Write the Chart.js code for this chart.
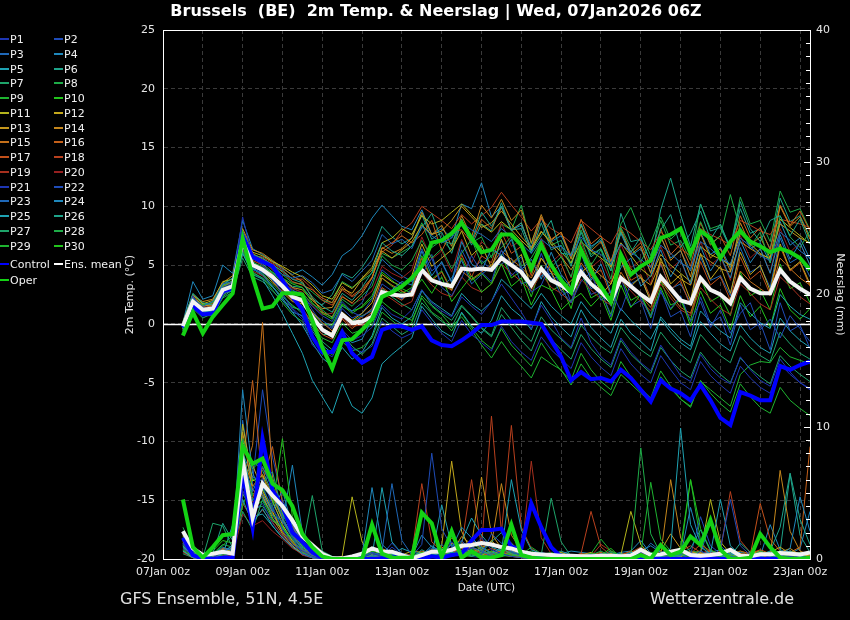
<!DOCTYPE html>
<html>
<head>
<meta charset="utf-8">
<title>Brussels 2m Temp. & Neerslag</title>
<script src="https://cdn.jsdelivr.net/npm/chart.js@4.4.1/dist/chart.umd.min.js"></script>
<style>
    body { margin: 0; background: #000; }
    #wrap { position: relative; width: 850px; height: 620px; background: #000; font-family: "DejaVu Sans", sans-serif; color: #e8e8e8; overflow: hidden; }
    #trendChart { position: absolute; left: 0; top: 0; }
    #title { position: absolute; left: 0; top: 1px; width: 872px; text-align: center; font-size: 16px; font-weight: bold; color: #fff; white-space: pre; }
    .foot { position: absolute; top: 589px; font-size: 16px; color: #e0e0e0; }
    .leg { position: absolute; font-size: 11px; line-height: 14px; white-space: nowrap; color: #f0f0f0; }
    .leg i { display: inline-block; width: 9px; height: 2px; vertical-align: middle; margin-right: 1px; margin-top: -2px; }
</style>
</head>
<body>
<div id="wrap">
    <canvas id="trendChart" width="850" height="620"></canvas>
    <div id="title">Brussels  (BE)  2m Temp. &amp; Neerslag | Wed, 07Jan2026 06Z</div>
    <div id="legend"></div>
    <div class="foot" style="left:120px">GFS Ensemble, 51N, 4.5E</div>
    <div class="foot" style="left:650px">Wetterzentrale.de</div>
</div>
<script>
// forecast steps, hours after 07Jan 00z
const forecastHours = [12,18,24,30,36,42,48,54,60,66,72,78,84,90,96,102,108,114,120,126,132,138,144,150,156,162,168,174,180,186,192,198,204,210,216,222,228,234,240,246,252,258,264,270,276,282,288,294,300,306,312,318,324,330,336,342,348,354,360,366,372,378,384,390];
const dayLabels = ['07Jan 00z','09Jan 00z','11Jan 00z','13Jan 00z','15Jan 00z','17Jan 00z','19Jan 00z','21Jan 00z','23Jan 00z'];

// 2m temperature (°C)
const tempControl = [-0.3,1.5,0.8,0.9,2.8,3.0,7.5,5.7, 5.3,4.9,3.7,2.3,1.2,-1.1,-2.4,-2.4, -0.7,-2.5,-3.3,-2.8,-0.5,-0.2,-0.2,-0.5, -0.2,-1.4,-1.8,-1.9,-1.4,-0.8,-0.1,-0.1, 0.2,0.2,0.2,0.1,0.0,-1.4,-2.8,-4.8, -4.1,-4.7,-4.6,-4.9,-3.9,-4.6,-5.6,-6.6, -4.8,-5.5,-5.9,-6.5,-5.2,-6.5,-8.0,-8.6, -5.8,-6.1,-6.5,-6.5,-3.6,-3.9,-3.5,-3.2];
const tempOper = [-1.0,1.0,-0.8,0.6,1.6,2.6,7.3,4.0, 1.3,1.5,2.6,2.6,2.5,0.3,-2.0,-3.8, -1.4,-1.3,-0.5,0.4,2.3,2.7,3.2,3.9, 4.9,6.9,7.1,7.7,8.6,7.3,6.1,6.3, 7.6,7.6,6.7,4.7,6.7,5.0,3.7,2.7, 6.3,4.5,3.2,1.9,5.9,4.2,4.9,5.4, 7.3,7.6,8.1,6.0,7.9,7.3,5.6,7.0, 7.9,7.0,6.6,6.1,6.4,6.1,5.6,4.6];
const tempMean = [-0.2,1.9,1.2,1.3,2.9,3.2,7.0,5.0, 4.6,4.0,3.2,2.3,2.0,0.6,-0.5,-1.0, 0.8,0.1,0.2,0.6,2.7,2.5,2.4,2.5, 4.6,3.7,3.4,3.2,4.7,4.6,4.7,4.6, 5.6,5.0,4.4,3.3,4.7,3.7,3.3,2.7, 4.4,3.4,2.7,1.9,3.9,3.2,2.5,1.9, 4.0,3.0,2.0,1.75,3.9,2.9,2.5,1.75, 3.9,3.0,2.6,2.6,4.6,3.6,3.0,2.5];

const tempP01 = [-0.3,2.4,1.0,1.5,3.1,3.5,9.1,5.6, 5.0,3.9,2.6,1.2,0.4,-1.8,-2.6,-2.2, -0.5,-1.4,-1.0,-0.3,1.6,0.8,0.4,1.2, 2.9,1.8,1.1,0.6,2.3,1.5,0.8,1.9, 3.4,2.2,1.0,-0.4,1.6,0.3,-1.2,-2.0, 0.5,-1.6,-2.8,-3.5,-1.2,-2.4,-3.3,-4.0, -1.8,-3.1,-4.4,-4.9,-2.6,-3.8,-4.6,-5.1, -2.8,-3.9,-4.8,-5.3,-3.0,-4.1,-5.0,-5.6];
const tempP02 = [0.0,1.6,1.4,1.1,2.5,3.0,6.5,4.6, 4.4,3.8,3.4,2.9,2.4,1.5,0.7,0.2, 1.9,1.0,0.6,1.2,3.4,2.8,2.1,3.0, 4.2,5.6,3.1,2.4,3.9,5.8,4.4,3.6, 6.3,4.1,4.9,2.7,3.3,5.2,2.9,1.8, 3.6,4.4,2.0,2.8,1.1,3.5,2.2,0.6, 2.7,1.3,2.4,0.2,1.9,-0.3,1.2,-0.8, 0.9,1.8,-0.5,0.4,-1.2,0.7,-0.4,-1.5];
const tempP03 = [-0.1,2.2,1.5,1.9,3.4,3.6,7.4,5.5, 5.3,4.8,4.2,3.9,4.1,3.5,2.6,2.9, 4.2,3.6,4.5,5.4,7.6,6.8,7.2,6.4, 8.3,7.5,6.9,7.3,8.6,8.0,7.6,7.0, 8.1,7.4,6.8,6.0,7.2,6.5,6.6,5.8, 7.4,6.3,5.9,5.1,6.8,6.1,5.5,4.8, 6.7,6.0,5.2,4.7,7.0,6.4,5.6,5.1, 7.3,6.6,5.8,5.4,7.8,7.1,6.2,5.6];
const tempP04 = [-0.4,1.8,0.9,1.2,2.7,3.3,6.8,4.8, 4.2,3.2,2.0,1.0,0.7,-0.6,-1.8,-2.5, -0.9,-1.6,-1.3,0.4,2.2,2.9,3.6,3.3, 6.2,4.1,5.3,3.6,7.0,5.1,4.5,6.4, 5.8,7.2,4.6,5.5,3.8,6.1,4.2,3.1, 6.0,3.7,5.1,2.6,4.8,5.6,3.2,4.1, 6.3,4.0,5.5,3.4,6.6,4.5,5.8,3.9, 7.1,5.2,6.4,4.3,7.6,5.5,6.9,5.0];
const tempP05 = [-0.2,1.7,1.1,1.0,2.6,2.8,6.0,4.2, 3.8,2.4,0.9,-0.8,-2.5,-4.8,-6.2,-7.6, -5.1,-7.0,-7.6,-6.3,-3.4,-2.6,-1.9,-1.2, 1.5,0.4,-0.6,-1.1,1.0,-0.2,-0.8,0.3, 2.4,1.3,0.6,-0.5,1.9,0.6,-0.3,-1.1, 1.2,-0.3,-1.2,-2.0,0.4,-0.8,-1.5,-2.3, 0.6,-0.4,-1.3,-1.9,1.1,0.2,-0.6,-1.2, 1.8,0.9,0.1,-0.4,2.5,1.5,0.8,0.4];
const tempP06 = [0.1,2.6,1.8,1.6,3.3,3.9,7.8,5.9, 5.6,5.0,4.5,3.8,3.5,2.3,1.5,1.0, 2.6,2.0,3.1,4.4,6.9,6.2,5.8,6.6, 8.2,9.4,7.1,6.8,8.9,7.0,9.5,8.3, 10.0,7.9,8.6,6.2,7.5,8.8,6.0,5.9, 8.5,6.4,7.3,5.0,7.8,6.1,7.4,5.2, 8.0,9.3,6.5,7.7,9.6,7.2,8.5,6.4, 10.4,8.1,7.0,8.8,9.2,7.5,8.9,6.8];
const tempP07 = [-0.6,1.3,0.5,0.9,2.3,2.9,6.2,4.4, 3.9,3.1,2.3,1.6,0.9,-0.4,-1.5,-2.2, -0.8,-1.9,-2.6,-1.7,0.5,-0.2,-0.9,-0.4, 1.8,0.9,0.2,-0.3,1.5,0.6,-0.4,-1.1, 0.8,-0.3,-1.4,-2.3,-0.2,-1.3,-2.2,-3.0, -0.9,-2.1,-3.0,-3.7,-1.4,-2.6,-3.4,-4.2, -2.0,-3.1,-4.0,-4.6,-2.4,-3.5,-4.3,-5.0, -2.9,-3.8,-4.5,-5.1,-2.7,-3.6,-4.3,-4.9];
const tempP08 = [-0.3,2.0,1.3,1.4,3.0,3.4,7.2,5.2, 4.9,4.3,3.6,2.8,2.6,1.7,1.2,0.5, 2.1,1.5,2.4,3.2,5.8,5.0,4.6,5.4, 7.1,5.6,6.4,4.7,6.0,7.2,5.1,5.8, 6.5,7.4,4.9,5.6,7.1,4.8,5.7,4.0, 7.2,5.0,6.3,3.8,8.2,6.5,5.3,6.9, 9.1,7.2,8.0,5.9,8.7,6.8,7.5,11.0, 8.0,6.6,7.8,5.2,9.2,7.4,6.5,7.9];
const tempP09 = [-0.5,1.5,0.8,1.1,2.4,3.1,6.6,4.7, 4.3,3.4,2.5,1.5,1.1,-0.2,-1.2,-1.6, 0.1,-0.8,-0.5,-0.1,1.9,1.2,0.7,0.3, 2.2,1.0,0.4,-0.6,0.9,-0.3,-1.4,-2.1, -0.4,-1.8,-2.7,-3.6,-1.6,-2.9,-4.0,-4.8, -2.5,-3.9,-4.9,-5.6,-3.2,-4.5,-5.5,-6.3, -4.0,-5.3,-6.4,-7.0,-4.8,-5.9,-6.8,-7.5, -5.1,-6.2,-7.1,-7.6,-5.4,-6.5,-7.2,-7.8];
const tempP10 = [-0.1,2.1,1.6,1.8,3.2,3.7,7.6,5.3, 4.7,4.4,3.9,3.4,3.1,1.8,0.9,0.4, 1.6,0.9,1.5,2.4,4.4,3.7,3.0,2.6, 3.8,2.6,4.0,1.9,3.0,4.1,2.7,3.4, 5.1,3.2,3.9,1.6,3.3,2.9,1.2,2.0, 2.6,1.5,2.4,0.3,3.3,1.4,2.5,0.5, 3.1,1.2,2.3,-0.2,2.8,0.9,1.6,-0.5, 2.4,0.6,1.5,-0.3,3.0,1.2,0.4,1.3];
const tempP11 = [0.2,2.5,1.7,2.0,3.6,3.8,7.9,6.1, 5.8,5.3,4.9,4.4,4.0,3.3,2.4,2.1, 3.5,3.0,3.9,4.8,6.9,7.3,8.1,7.6, 9.2,8.5,8.8,9.5,10.2,9.3,8.4,7.8, 8.7,8.0,7.1,6.3,7.8,7.0,6.1,5.2, 7.0,6.2,5.6,4.9,6.9,5.8,4.7,4.0, 5.9,5.0,4.3,3.6,6.6,5.9,5.5,5.0, 7.7,6.8,6.0,5.5,8.9,8.2,7.5,6.8];
const tempP12 = [-0.4,1.9,1.1,1.2,2.8,3.1,6.9,4.9, 4.5,3.6,2.7,1.9,1.7,0.6,-0.4,-0.8, 1.0,0.3,0.9,1.8,4.2,3.6,3.2,4.1, 6.8,4.9,5.6,6.3,7.9,5.8,6.7,4.8, 7.2,5.1,5.9,3.0,5.6,4.4,2.8,3.7, 4.3,5.2,2.5,3.4,5.5,3.2,4.0,1.9, 5.6,3.4,4.2,2.0,6.0,3.8,4.9,2.6, 6.1,4.2,5.0,2.8,6.8,4.6,5.3,3.4];
const tempP13 = [-0.2,2.3,1.6,1.5,3.2,3.5,7.5,5.8, 5.4,4.6,3.9,3.1,2.9,2.0,1.3,1.4, 3.0,2.6,3.8,4.6,6.2,5.6,6.3,7.0, 8.4,7.6,7.9,8.8,10.0,9.1,8.2,8.6, 9.6,8.5,7.4,6.5,7.9,6.8,5.7,4.6, 6.0,4.9,4.1,3.4,5.6,4.7,3.9,3.3, 5.3,4.5,3.8,3.3,5.9,5.3,4.7,4.4, 7.0,6.4,5.9,5.6,8.5,7.9,7.3,6.9];
const tempP14 = [0.0,2.4,1.9,2.1,3.5,4.1,8.1,6.3, 6.0,5.4,4.8,4.1,3.6,2.2,1.0,0.6, 2.3,1.8,2.6,3.9,6.5,6.0,6.4,7.3, 9.5,7.6,8.4,6.6,9.2,7.4,10.1,9.0, 10.6,8.8,9.7,6.9,9.3,7.1,7.8,5.5, 8.4,6.2,7.0,4.8,7.9,5.9,6.6,4.3, 7.5,5.4,6.3,4.0,7.7,5.6,6.4,4.5, 8.6,6.7,7.4,5.6,10.0,8.3,9.1,7.2];
const tempP15 = [-0.3,2.0,1.2,1.0,2.7,3.2,6.7,5.1, 4.8,4.1,3.3,2.5,2.0,1.0,0.1,-0.6, 0.7,0.0,0.6,1.3,3.9,3.3,2.8,2.3, 4.6,3.7,3.3,2.9,4.5,3.8,4.4,5.0, 6.2,5.5,4.8,3.9,5.6,4.4,3.8,3.0, 5.2,4.0,3.0,2.2,4.4,3.1,2.4,1.4, 3.7,2.5,1.4,0.9,3.6,2.9,2.6,2.0, 4.5,3.6,3.0,2.4,5.6,4.7,3.9,3.3];
const tempP16 = [0.1,2.3,1.5,1.7,3.3,3.6,7.7,6.0, 5.5,5.1,4.4,3.6,3.3,2.9,2.2,1.8, 3.2,2.4,3.0,3.9,6.4,6.9,7.5,6.9, 7.6,8.8,6.2,7.9,8.0,6.9,8.9,8.1, 9.9,8.0,8.6,6.3,9.1,7.2,7.8,5.8, 8.9,6.8,7.5,5.3,8.1,6.1,6.9,4.8, 8.1,5.9,6.8,4.9,8.6,6.7,7.5,5.8, 9.2,7.3,8.2,6.3,10.1,8.4,9.6,7.9];
const tempP17 = [-0.2,1.8,1.3,1.6,3.0,3.3,7.1,5.4, 5.0,4.2,3.0,2.0,1.3,0.1,-0.9,-1.3, 0.4,-0.4,0.3,1.0,3.1,2.5,2.0,2.9, 5.6,3.7,4.4,2.8,5.9,4.0,5.8,5.2, 7.8,6.0,6.6,4.1,6.7,4.4,5.1,3.0, 6.2,4.1,4.6,2.4,5.6,3.7,4.2,2.2, 5.2,2.9,3.7,1.5,5.3,3.3,4.0,2.0, 5.7,3.8,4.5,2.5,6.6,4.5,5.2,3.2];
const tempP18 = [0.0,2.1,1.4,1.8,3.1,3.7,7.3,5.7, 5.7,5.2,4.6,3.8,3.8,3.0,2.0,1.6, 2.9,2.3,2.8,4.0,6.1,6.7,7.9,8.6, 10.0,9.4,8.8,8.1,9.3,8.5,9.2,9.9, 11.2,10.1,9.1,7.9,8.9,8.1,7.6,6.9, 8.8,8.1,7.4,6.8,8.3,7.7,7.0,6.3, 7.8,7.1,6.4,5.8,8.1,7.6,7.2,6.7, 8.8,8.4,7.9,7.6,8.9,8.7,8.5,8.2];
const tempP19 = [-0.5,1.6,0.9,0.8,2.5,2.9,6.4,4.5, 4.1,3.5,2.8,2.1,1.8,0.5,-0.6,-1.1, 0.5,-0.2,-0.1,0.4,2.6,2.1,1.5,1.9, 4.4,3.3,2.6,2.3,4.0,3.1,2.7,3.4, 5.1,4.3,3.6,2.8,4.3,3.1,2.6,1.8, 3.8,2.9,2.1,1.6,3.7,2.8,1.9,1.1, 3.4,2.2,1.2,0.7,3.1,2.1,1.3,0.8, 3.4,2.6,1.7,1.2,4.0,3.2,2.3,1.7];
const tempP20 = [-0.1,1.9,1.2,1.3,2.9,3.4,6.6,5.0, 4.6,4.0,3.5,3.0,2.7,1.6,0.8,0.9, 2.4,1.7,2.1,2.8,4.9,4.3,3.9,4.6, 7.4,5.5,6.2,4.4,7.2,5.2,7.0,6.2, 8.6,6.6,7.1,4.8,7.3,5.2,6.0,3.9, 6.9,4.8,5.5,3.5,6.8,4.8,5.4,3.4, 6.6,4.7,5.4,3.3,7.0,5.0,5.7,3.7, 7.5,5.6,6.4,4.4,8.1,6.1,6.9,5.0];
const tempP21 = [-0.4,1.7,0.9,1.1,2.6,3.1,7.9,5.3, 4.7,3.8,2.5,1.3,0.6,-1.1,-2.3,-2.8, -1.2,-2.1,-2.4,-1.9,0.2,-0.6,-1.2,-0.8, 1.2,0.1,-0.8,-1.5,0.3,-0.9,-1.6,-2.3, -0.2,-1.5,-2.4,-3.1,-1.1,-2.2,-3.0,-3.8, -1.6,-2.8,-3.7,-4.4,-2.1,-3.4,-4.3,-5.0, -2.7,-3.9,-5.0,-5.6,-3.2,-4.4,-5.2,-5.9, -3.6,-4.6,-5.4,-5.9,-3.4,-4.3,-5.0,-5.5];
const tempP22 = [0.2,2.2,1.6,1.4,2.8,3.0,7.0,5.2, 4.8,4.3,3.7,3.1,2.6,1.2,0.0,-0.4, 1.3,0.5,0.9,2.1,4.6,3.9,3.4,3.8, 6.4,4.5,5.2,3.5,6.3,4.6,5.4,4.6, 7.1,5.0,5.7,3.1,6.0,3.8,4.1,1.8, 4.8,2.5,2.9,0.6,3.9,1.5,2.0,-0.4, 2.9,0.6,1.1,-1.1,2.3,0.0,0.6,-1.8, 1.6,-0.5,0.1,-2.2,1.8,-0.6,-0.1,-2.1];
const tempP23 = [-0.3,2.0,1.0,1.3,3.0,3.1,6.3,4.9, 4.4,3.7,3.0,2.2,1.5,0.9,0.3,-0.3, 1.5,1.1,1.8,3.6,5.5,4.7,4.1,3.6, 4.8,5.9,3.2,3.9,5.4,3.4,4.2,4.9, 5.1,5.6,3.4,3.7,4.1,4.3,2.4,2.9, 5.0,3.0,3.4,1.5,5.5,3.4,3.9,2.0, 5.1,3.0,3.4,1.8,5.7,3.7,4.1,2.4, 6.5,4.4,4.9,3.1,7.3,5.2,5.7,4.0];
const tempP24 = [0.1,3.6,2.1,2.4,5.0,4.3,8.8,6.4, 5.9,5.3,4.7,4.2,4.6,4.0,3.3,4.2, 5.8,6.4,7.5,9.0,10.1,9.2,8.3,8.0, 9.7,7.6,8.1,7.3,10.2,9.8,12.0,9.1, 10.0,8.0,8.4,6.5,9.0,7.0,7.5,5.7, 8.5,6.6,7.1,5.3,7.7,5.8,6.4,4.4, 7.4,5.6,6.2,4.5,7.8,5.9,6.5,4.8, 8.2,6.4,6.9,5.2,8.7,6.7,7.3,5.5];
const tempP25 = [-0.2,1.8,1.2,1.4,2.9,3.2,6.8,4.7, 4.1,3.2,2.2,1.0,-0.1,-1.6,-2.9,-3.6, -2.0,-3.0,-2.4,-1.0,1.4,0.5,0.0,0.6, 2.8,1.9,1.3,0.7,2.6,1.7,1.1,1.9, 3.8,3.0,2.1,1.3,2.6,1.5,0.7,0.0, 1.9,0.8,0.0,-0.8,1.3,0.3,-0.5,-1.3, 0.4,-0.7,-1.6,-2.2,0.2,-0.8,-1.7,-2.3, -0.1,-1.2,-2.0,-2.5,0.5,-0.6,-1.4,-2.0];
const tempP26 = [0.0,2.5,1.7,1.6,3.4,3.9,7.2,5.6, 5.1,4.4,3.8,3.2,3.1,2.1,1.6,2.5, 4.3,3.9,4.8,6.1,8.3,7.4,6.8,7.3, 9.3,7.2,7.8,6.0,8.7,6.7,8.5,7.9, 10.3,8.0,8.1,6.0,8.6,6.3,6.7,4.9, 7.8,5.7,6.4,4.5,9.4,7.0,7.2,5.3, 9.7,12.4,9.3,6.6,10.2,7.9,8.2,6.4, 9.8,7.7,8.1,6.4,10.7,8.7,9.2,7.4];
const tempP27 = [-0.6,1.4,0.7,0.7,2.2,2.7,5.6,4.0, 3.6,2.8,2.0,1.4,1.2,0.0,-0.9,-0.9, 0.9,0.2,0.7,1.1,3.0,2.3,1.7,1.2, 2.9,1.6,0.9,0.3,1.6,0.7,-0.3,-1.0, 1.4,0.3,-0.7,-1.5,0.6,-0.5,-1.3,-2.1, -0.1,-1.1,-1.9,-2.5,-0.3,-1.4,-2.2,-2.8, -0.7,-1.8,-2.6,-3.3,-0.9,-1.9,-2.7,-3.3, -1.0,-2.0,-2.7,-3.2,-0.7,-1.7,-2.5,-3.0];
const tempP28 = [-0.1,2.2,1.5,1.9,3.3,3.5,7.6,5.9, 5.6,5.0,4.2,3.5,3.4,2.7,2.0,1.8, 3.6,3.1,3.7,4.3,6.0,5.6,6.1,6.6, 8.6,6.5,7.1,6.3,8.9,6.9,7.4,5.6, 8.5,8.0,10.1,6.8,9.1,6.7,7.1,5.1, 8.0,5.9,6.4,4.5,8.5,9.9,7.8,5.8, 8.8,6.7,7.1,5.4,10.2,8.1,8.4,6.5, 10.8,8.5,8.8,7.0,11.3,9.5,9.8,8.0];
const tempP29 = [-0.4,1.6,0.8,1.2,2.5,3.0,6.1,4.3, 3.9,2.9,1.8,0.8,0.2,-1.2,-2.2,-2.6, -1.5,-2.3,-2.0,-1.2,1.0,0.3,-0.4,0.1, 2.4,1.5,0.8,-0.2,0.6,-0.5,-1.8,-2.9, -1.5,-2.7,-3.6,-4.6,-2.8,-3.4,-3.9,-5.2, -3.4,-4.6,-5.4,-6.1,-4.3,-5.1,-5.9,-6.6, -4.5,-5.5,-6.4,-7.1,-4.9,-5.6,-6.3,-7.0, -4.3,-3.5,-3.2,-3.3,-2.0,-2.8,-3.1,-3.4];
const tempP30 = [-0.3,1.9,1.0,1.6,3.1,3.3,7.0,5.1, 4.5,3.8,3.1,2.4,2.2,0.9,0.0,-0.1, 1.7,1.1,1.4,2.2,3.9,3.2,2.6,3.1, 5.8,3.8,4.5,2.9,5.6,3.7,4.3,3.4, 5.9,3.9,4.5,2.3,5.0,2.8,3.3,1.3, 4.5,2.2,2.7,0.8,4.1,2.0,2.5,0.7, 3.7,1.6,2.0,0.3,3.9,1.9,2.4,0.7, 4.4,2.4,2.9,1.2,5.1,3.0,3.5,1.8];

// 6-hourly precipitation (mm)
const rainControl = [1.6,0.3,0,0,0.1,0.1,6.5,2.4, 9.1,5.2,4.0,2.0,1.3,0.5,0.1,0, 0,0,0,0,0.05,0.1,0.3,0, 0,0.2,0.1,0.3,0.4,1.4,2.2,2.2, 2.3,0.9,0.8,4.2,2.4,0.9,0.15,0, 0.1,0.2,0.2,0.2,0.1,0.05,0,0, 0,0,0,0,0,0,0,0, 0,0,0,0,0,0,0,0];
const rainOper = [4.5,0.9,0.1,0.9,1.8,1.9,8.5,7.2, 7.6,5.7,5.2,4.0,1.9,0.9,0.2,0, 0,0,0,2.6,0.4,0.1,0.1,0.1, 3.5,2.7,0.15,2.1,0.1,0.6,0.1,0.1, 0.3,2.6,0.3,0.1,0,0,0,0, 0,0,0,0,0,0,0.3,0, 1.06,0.3,0.55,1.7,1.06,2.95,0.7,0, 0,0.1,1.9,0.9,0.1,0,0,0.1];
const rainMean = [2.1,0.8,0.3,0.4,0.55,0.4,7.5,3.1, 5.7,4.8,4.0,2.9,1.7,1.06,0.4,0.05, 0.05,0.2,0.4,0.8,0.55,0.55,0.3,0.05, 0.3,0.55,0.55,0.7,1.0,1.06,1.2,1.1, 0.9,0.8,0.55,0.4,0.35,0.3,0.25,0.25, 0.2,0.2,0.25,0.25,0.2,0.25,0.7,0.3, 0.35,0.55,0.7,0.3,0.25,0.3,0.4,0.7, 0.25,0.2,0.35,0.35,0.45,0.4,0.35,0.5];

const rainP01 = [1.2,0.2,0,0.1,0.5,0.3,5.2,3.4, 6.1,4.0,2.2,1.1,0.6,0.2,0,0, 0,0,0.1,0.4,0.2,0.9,0.3,0, 0,0.6,0.2,1.3,0.5,0.8,1.6,0.7, 0.4,0.2,0.1,0,0,0.2,0,0, 0,0,0.3,0.1,0,0,0.5,0.2, 0,0.1,0,0,0.6,0.3,0.1,0, 0,0.2,0.4,0.1,0,0,0.3,0.1];
const rainP02 = [0.8,0.3,0.1,0,0.2,0.4,6.8,4.1, 5.5,3.7,2.8,1.6,0.4,0.1,0,0, 0,0.1,0.2,0.5,0.3,1.2,0.4,0.2, 1.1,8.0,2.3,0.9,1.4,0.6,0.3,1.9, 1.2,0.5,0.3,0.1,0,0,0.2,0, 0,0,0,0.1,0.2,0,0,0.1, 0.3,0.1,0,0.5,0.2,0,0.8,4.5, 1.0,0.3,0.2,0,0.1,0.2,0,0];
const rainP03 = [1.5,0.4,0.1,0.2,0.6,0.8,7.4,5.1, 7.0,5.3,3.1,1.8,0.7,0.3,0.1,0, 0,0,0,0.2,0.6,5.7,1.4,0.3, 0.2,0.5,1.1,0.4,0.3,0.9,0.6,0.2, 0.5,1.2,0.4,0.2,0,0,0.1,0, 0,0.1,0.2,0,0,0.3,0.1,0, 0,0.2,0.5,0.3,0,0.1,0.4,0.2, 0.1,0,0,0.2,0.3,0.1,0,0.2];
const rainP04 = [1.0,0.2,0,0.3,0.9,0.6,12.8,6.5, 4.9,3.6,5.2,2.4,1.3,0.5,0.1,0, 0,0,0.3,5.4,1.1,0.4,0.2,0, 0.3,1.0,0.5,0.8,2.4,1.6,0.9,0.4, 0.9,0.6,0.3,0.2,0.1,0,0,0, 0,0,0.4,0.2,0.3,0,0.6,1.0, 0.5,0.3,0.2,3.9,1.1,0.2,0.1,0.4, 0.2,0,0.1,0.5,0.3,0.8,4.7,2.1];
const rainP05 = [0.6,0.1,0,0,0.4,1.1,4.5,2.7, 3.8,2.5,1.6,0.9,0.4,0.1,0,0, 0,0,0,0,0.1,0.3,0.8,0.5, 0.4,0.2,0.6,0.5,1.3,3.1,1.8,0.9, 0.6,6.0,2.2,0.7,0.4,0.2,0,0, 0,0.1,0,0,0.2,0.5,0.3,0.1, 0.2,0.8,9.9,2.6,0.9,0.4,4.5,1.0, 0.3,0.1,0.2,0,0.4,0.6,0.2,0.1];
const rainP06 = [2.1,0.5,0.2,0.4,2.7,1.4,8.3,4.4, 5.8,6.6,3.5,2.0,0.9,0.4,0.1,0, 0,0,0.1,0.3,0.2,0.5,0.2,0.1, 0.7,0.3,0.4,1.1,0.6,0.2,0.5,1.3, 2.0,0.8,0.3,0.1,0.2,0.4,0.1,0, 0,0.2,0.3,0.2,0.4,0.1,0.7,0.3, 0.2,0.1,0.4,0.8,2.2,0.6,0.3,0.2, 1.2,0.5,0.3,0.6,2.4,6.5,3.0,1.1];
const rainP07 = [0.9,0.3,0.1,2.7,2.5,0.8,3.6,2.2, 4.5,3.3,2.9,1.7,0.8,4.8,0.6,0.2, 0,0,0,0.2,0.1,0.4,0.2,0, 0.3,0.6,0.3,0.5,0.4,1.2,0.7,0.3, 0.8,0.4,0.2,0.1,0.3,4.6,1.3,0.2, 0.1,0,0.2,0.5,0.2,0.1,0,0, 0,0.1,0.3,0.2,0.1,0,0.2,0.4, 0.3,0.2,0,0.1,0.6,0.3,0.2,0.1];
const rainP08 = [1.7,0.6,0.2,0.1,0.3,0.5,9.1,6.8, 7.6,5.0,3.3,2.1,1.0,0.4,0.1,0, 0,0,0.1,0.5,0.3,0.2,0.4,0.1, 0.2,0.3,0.8,0.4,0.6,0.3,0.9,0.5, 0.3,0.2,0.6,0.4,0.2,0.1,0,0.1, 0,0.3,0.6,0.2,0,0.1,8.4,1.9, 0.4,0.2,0.1,0.3,0.6,0.2,0.1,0, 0,0.2,0.6,0.3,0.1,0.4,0.2,0];
const rainP09 = [1.1,0.4,0.1,0.3,1.0,1.8,5.6,3.9, 4.4,3.0,2.4,1.5,0.5,0.2,0,0, 0,0.1,0,0,0.2,0.1,0.3,0.2, 0.4,0.2,0.1,0.5,0.3,0.2,0.4,0.6, 0.2,0.5,0.3,0.9,0.4,0.2,0.1,0, 0.2,0.4,1.5,0.6,0.2,0.3,0.4,5.8, 1.5,0.6,0.4,0.2,0.3,0.1,0.2,0.3, 0.1,0.3,0.2,0.4,0.6,0.3,0.1,0.2];
const rainP10 = [0.7,0.2,0.1,0.6,1.4,1.2,4.0,6.1, 5.3,3.9,9.1,3.2,1.6,0.7,0.2,0, 0,0,0.2,0.6,0.4,0.3,0.2,0.1, 0.5,0.4,0.2,0.3,0.6,0.4,0.3,0.2, 0.4,0.3,0.2,0.1,0.2,0.3,0.1,0, 0.2,0.4,0.3,0.8,0.1,0.2,0.3,0.2, 0.2,0.4,0.9,6.0,2.3,0.7,0.3,0.2, 0.1,0.2,0.3,0.2,0.4,0.2,0.3,0.1];
const rainP11 = [1.3,0.3,0,0.2,0.4,0.9,10.2,5.9, 6.3,4.4,2.6,1.4,0.6,0.2,0,0, 0.2,4.7,1.3,0.3,0.1,0,0.4,0.2, 0.1,0.4,0.6,1.6,0.9,0.5,0.3,0.6, 0.4,0.2,0.1,0,0,0.3,0.5,0.2, 0.1,0,0.2,0.4,0.3,3.6,1.1,0.3, 0.2,0.4,0.6,0.3,0.5,4.5,1.3,0.4, 0.3,0.2,0.5,0.3,0.2,0.6,0.4,0.2];
const rainP12 = [0.9,0.2,0.1,0.1,0.5,0.7,8.9,7.1, 5.2,3.6,2.0,1.2,0.5,0.2,0,0, 0,0.1,0,0.2,0.8,0.4,0.3,0.6, 0.5,0.3,1.0,7.4,2.1,0.5,0.7,1.4, 0.6,1.2,0.4,0.2,0.1,0,0.1,0, 0,0.2,0.1,0.4,0.2,0.1,0.6,0.3, 0.1,0.3,0.2,0.5,0.4,0.2,0.1,0.3, 0.2,0.1,0.3,0.5,0.9,0.4,0.2,0.1];
const rainP13 = [1.4,0.5,0.2,0.3,0.7,0.4,9.6,5.2, 4.8,3.1,1.9,1.0,0.4,0.1,0,0, 0,0,0.3,0.1,0.2,0.5,0.3,0.2, 0.4,0.6,0.9,0.5,1.7,1.1,6.2,1.9, 0.8,0.4,0.2,0.1,0,0.2,0.3,0.1, 0.3,0.5,0.2,0.1,0.4,0.2,0.1,0.3, 0.6,1.9,0.8,0.3,0.2,0.4,0.3,0.1, 0.2,0.4,0.6,0.3,0.5,0.8,0.3,0.4];
const rainP14 = [0.6,0.1,0,0.2,0.6,0.3,7.8,5.5, 6.4,4.8,3.0,1.9,0.7,0.3,0.1,0, 0,0,0,0.1,0.3,0.6,0.4,0.2, 0.3,0.7,0.4,1.2,0.8,0.5,0.9,1.1, 5.7,1.8,0.7,0.3,0.1,0,0,0.1, 0.2,0.1,0.3,0.2,0,0.4,0.2,0.1, 0.3,6.0,1.6,0.5,0.3,0.2,0.4,0.2, 0.4,0.3,0.6,0.2,6.7,2.1,0.6,0.3];
const rainP15 = [1.8,0.5,0.2,0.3,0.8,0.6,6.0,8.6, 17.9,6.2,3.4,2.5,1.2,0.4,0.1,0, 0,0,0.2,0.1,0.4,0.3,0.2,0.1, 0.6,0.4,0.3,0.8,0.5,1.4,0.7,0.3, 0.2,0.6,0.3,0.1,0.2,0,0,0.1, 0,0.2,0.4,0.3,0.1,0.3,0.5,0.2, 0.1,0.3,0.2,0.4,0.6,0.2,0.1,0.3, 0.2,0.4,0.3,0.1,0.5,0.3,0.4,0.2];
const rainP16 = [1.0,0.3,0,0.1,0.3,0.7,7.0,13.5, 5.8,8.5,4.2,2.0,0.9,0.3,0.1,0, 0,0,0.1,0.3,0.2,0.4,0.1,0.2, 0.3,0.5,0.6,0.4,1.0,0.6,0.5,0.8, 0.5,0.3,0.1,0.2,0.4,0.1,0,0, 0.1,0.3,0.5,0.2,0.3,0.6,0.4,0.2, 0.2,0.1,0.5,0.3,0.4,0.6,0.2,0.3, 0.6,0.4,0.7,0.4,0.2,0.5,0.9,8.5];
const rainP17 = [1.6,0.4,0.1,0.2,0.5,0.3,5.1,4.6, 6.9,5.5,3.8,2.3,1.4,0.5,0.1,0, 0,0,0.1,0,0.2,0.3,0.2,0.1, 0.4,0.2,0.5,0.3,0.6,0.4,0.2,0.5, 0.3,0.2,0.4,0.3,0.1,0,0.1,0.2, 0.4,0.3,0.1,0.2,0.3,0.5,0.9,0.4, 0.3,0.2,0.6,0.4,1.1,0.6,0.3,0.2, 0.4,0.3,4.2,1.5,0.6,0.4,0.2,0.3];
const rainP18 = [1.3,0.2,0.1,0,0.4,0.5,6.3,4.3, 5.0,3.5,2.1,1.3,0.6,0.2,0,0, 0,0,0,0.2,0.1,0.3,0.2,0.4, 5.7,1.3,0.6,0.4,1.0,6.0,0.9,10.8, 2.0,10.1,2.4,0.8,0.3,0.1,0,0.2, 0.4,3.6,0.9,0.3,0.2,0.1,0.4,0.3, 0.2,0.4,0.6,1.0,0.5,0.3,0.6,5.1, 1.4,0.5,0.3,0.2,0.4,0.6,0.3,0.2];
const rainP19 = [0.5,0.1,0,0,0.2,0.3,4.2,3.0, 3.7,2.8,1.7,0.9,0.3,0.1,0,0, 0,0,0,0.1,0.2,0.1,0.3,0.2, 0.3,0.5,0.2,0.4,0.6,0.9,0.4,0.3, 0.5,0.7,0.3,7.4,1.6,0.4,0.2,0.1, 0.3,0.2,1.1,0.6,0.2,0.1,0.3,0.2, 0.1,0.3,0.5,0.2,0.4,0.7,0.3,0.2, 0.2,0.6,0.4,0.3,0.2,0.4,0.3,0.5];
const rainP20 = [0.8,0.2,0,0.1,0.3,0.2,3.4,2.5, 2.9,2.1,1.5,0.8,0.4,0.1,0,0, 0,0,0.1,0.2,0.1,0.3,0.2,0.1, 0.2,0.4,0.5,0.3,0.7,0.5,0.3,0.4, 0.6,0.3,0.2,0.4,0.2,0.1,0.3,0.2, 0.2,0.4,0.3,0.2,0.1,0.3,0.2,0.4, 0.3,0.2,0.1,0.3,0.2,0.5,0.3,0.2, 0.1,0.3,0.2,0.4,0.3,0.2,0.3,0.1];
const rainP21 = [0.7,0.1,0,0,0.2,0.4,7.2,3.6, 4.2,2.7,1.8,1.0,0.3,0.1,0,0, 0,0,0,0,0.1,0.2,0.1,0, 0.2,0.1,0.3,0.2,0.4,0.2,0.1,0.3, 0.2,0.4,0.1,0,0.1,0.2,0,0, 0.1,0,0.2,0.1,0,0.1,0.3,0.1, 0,0.2,0.1,0,0.3,0.1,0.2,0, 0.1,0,0.2,0.1,0,0.2,0.1,0];
const rainP22 = [1.1,0.3,0.1,0.2,0.5,0.6,4.8,5.9, 12.8,7.7,4.5,2.6,1.2,0.5,0.1,0, 0,0.1,0,0.2,0.4,0.3,0.1,0.2, 0.5,0.3,0.2,0.4,0.8,0.6,0.4,0.3, 0.4,0.2,0.3,0.1,0,0.2,0.1,0, 0,0.2,0.3,0.1,0.4,0.2,0.1,0.3, 0.2,0.4,0.6,0.3,3.2,1.0,0.4,0.2, 0.3,0.2,0.4,0.3,0.2,0.6,0.4,0.3];
const rainP23 = [1.4,0.4,0.1,0.3,0.7,0.9,10.5,5.6, 4.6,3.3,2.2,3.0,1.1,0.4,0.1,0, 0,0,0.1,0.2,0.3,0.5,0.2,0.1, 0.4,0.8,0.5,0.3,0.6,1.5,0.8,0.5, 0.3,0.6,0.4,0.2,0.5,0.3,0.1,0.2, 0.3,0.1,0.4,0.3,0.2,0.5,0.3,1.2, 0.6,0.3,0.2,0.5,0.4,2.8,1.0,0.3, 0.2,0.4,0.3,0.6,0.4,0.3,0.2,0.4];
const rainP24 = [1.9,0.5,0.1,0.2,0.8,0.6,8.0,6.2, 5.9,4.3,2.7,7.1,2.0,0.8,0.2,0, 0,0,0.2,0.4,0.3,0.6,0.4,0.2, 1.8,0.9,0.6,0.4,1.2,0.8,0.5,0.3, 0.4,0.7,0.5,0.3,0.2,0.3,0.4,0.6, 0.5,0.4,0.2,0.3,0.5,0.6,1.4,0.4, 0.3,0.6,0.4,0.2,0.3,0.5,0.7,0.4, 0.5,0.3,0.2,2.6,0.7,0.4,0.8,3.6];
const rainP25 = [0.9,0.2,0,0.1,0.3,2.6,6.6,3.2, 3.4,2.5,1.6,1.0,0.4,0.1,0,0, 0,0,0.2,0.1,5.4,1.3,0.4,0.2, 0.3,0.2,4.1,1.0,0.5,0.3,0.2,0.4, 0.6,0.3,0.2,0.1,0.2,0.4,0.3,0.1, 0.2,0.3,0.1,0.2,0.4,0.3,0.2,0.1, 0.3,0.2,0.4,0.3,0.1,0.2,0.3,0.5, 0.4,0.2,0.3,0.1,0.5,0.3,0.2,0.3];
const rainP26 = [1.2,0.3,0.1,0.2,0.4,0.8,5.7,7.4, 6.7,4.9,3.1,1.7,0.8,0.3,0.1,0, 0,0,0.1,0.3,0.2,0.4,0.3,0.1, 0.3,0.5,0.7,0.4,0.9,0.6,0.3,0.5, 0.6,0.4,0.3,0.2,0.4,0.3,0.6,0.3, 0.2,0.1,0.3,0.6,0.3,0.4,0.2,0.3, 0.4,0.3,0.2,0.5,0.3,0.6,0.4,0.3, 0.2,0.5,0.4,0.3,0.6,6.4,1.8,0.5];
const rainP27 = [0.4,0.1,0,0.3,0.6,0.4,4.9,3.8, 4.0,2.9,2.3,1.4,0.6,0.2,0,0, 0,0.1,0,0.1,0.2,0.3,0.1,0.2, 0.3,0.2,0.4,0.3,0.5,0.4,0.3,0.2, 0.4,0.5,0.3,0.2,0.3,0.2,0.1,0.1, 0.3,0.2,0.1,0.3,0.2,0.4,0.3,0.2, 0.1,0.3,0.2,0.4,0.2,0.3,0.5,0.2, 0.3,0.2,0.4,0.2,0.3,0.1,0.2,0.3];
const rainP28 = [2.4,0.7,0.2,0.4,1.1,0.9,7.6,4.9, 5.4,4.6,3.0,1.6,0.7,0.3,0.1,0, 0,0,0.1,0.2,0.4,0.2,0.3,0.1, 0.4,0.3,0.5,0.7,0.4,0.9,0.6,0.3, 0.3,0.2,0.4,0.6,0.3,0.5,0.2,0.1, 0.4,0.3,0.2,0.1,0.3,0.5,0.4,0.2, 0.3,0.2,0.4,0.6,0.5,0.3,0.2,0.4, 0.6,0.3,0.2,0.5,0.4,0.3,0.5,0.2];
const rainP29 = [1.0,0.3,0.1,0.2,0.5,0.7,6.2,4.0, 4.7,3.4,2.5,1.3,0.5,0.2,0,0, 0,0,0,0.1,0.3,0.2,0.1,0.3, 0.2,0.4,0.3,0.2,0.4,0.6,0.3,0.2, 0.3,0.4,0.2,0.3,0.2,0.1,0.3,0.2, 0.2,0.4,0.3,0.2,0.3,0.2,0.6,0.5, 0.3,0.5,0.4,6.0,1.4,0.3,0.2,0.3, 0.2,0.3,0.4,0.2,0.3,0.5,0.2,0.3];
const rainP30 = [0.6,0.2,0,0.1,0.4,0.5,6.9,4.8, 5.0,3.8,2.4,1.2,0.5,0.2,0,0, 0,0,0.1,0.2,0.3,0.2,0.4,0.1, 0.3,0.2,0.4,0.5,0.3,0.2,0.4,0.3, 0.2,0.3,0.4,0.2,0.3,0.4,0.2,0.1, 0.3,0.2,0.4,0.3,0.1,0.2,0.3,0.4, 0.2,0.3,0.5,0.2,0.4,0.3,0.2,0.3, 0.4,0.2,0.3,0.2,0.3,0.4,0.2,0.3];

const memberTemps = [tempP01,tempP02,tempP03,tempP04,tempP05,tempP06,tempP07,tempP08,tempP09,tempP10,tempP11,tempP12,tempP13,tempP14,tempP15,tempP16,tempP17,tempP18,tempP19,tempP20,tempP21,tempP22,tempP23,tempP24,tempP25,tempP26,tempP27,tempP28,tempP29,tempP30];
const memberRain = [rainP01,rainP02,rainP03,rainP04,rainP05,rainP06,rainP07,rainP08,rainP09,rainP10,rainP11,rainP12,rainP13,rainP14,rainP15,rainP16,rainP17,rainP18,rainP19,rainP20,rainP21,rainP22,rainP23,rainP24,rainP25,rainP26,rainP27,rainP28,rainP29,rainP30];

// P1..P20 palette, P21..P30 reuse the first ten colours
const palette = ['#1e36b4','#1f4cb8','#1f68b8','#1f88bc','#1ea2b2','#1ea48a','#1ea46a','#1eac48','#1eb430','#22c41c',
                 '#b4b41c','#c4a81c','#c4961c','#c4861c','#c4701a','#c4601a','#c2501a','#b8401e','#a6301e','#962020'];
const memberColor = i => palette[i % 20];

// Chart.js paints higher "order" first, so members get the largest value
function line(values, color, width, axis, order) {
    return {
        data: values.map((v, i) => ({ x: forecastHours[i], y: v })),
        borderColor: color,
        borderWidth: width,
        pointRadius: 0,
        tension: 0,
        fill: false,
        yAxisID: axis,
        order: order
    };
}

const datasets = [];
memberTemps.forEach((vals, i) => datasets.push(line(vals, memberColor(i), 1, 'y', 10)));
memberRain.forEach((vals, i) => datasets.push(line(vals, memberColor(i), 1, 'y2', 10)));
datasets.push(line(tempControl, '#0000ff', 4, 'y', 3), line(rainControl, '#0000ff', 4, 'y2', 3));
datasets.push(line(tempMean, '#f2f2f2', 4, 'y', 2), line(rainMean, '#f2f2f2', 4, 'y2', 2));
datasets.push(line(tempOper, '#14d214', 4, 'y', 1), line(rainOper, '#14d214', 4, 'y2', 1));

// legend, two columns at the left
const legend = document.getElementById('legend');
function addLegend(text, color, col, top) {
    const d = document.createElement('div');
    d.className = 'leg';
    d.style.left = (col ? 54 : 0) + 'px';
    d.style.top = top + 'px';
    d.innerHTML = '<i style="background:' + color + '"></i>' + text;
    legend.appendChild(d);
}
for (let i = 0; i < 30; i++) {
    addLegend('P' + (i + 1), memberColor(i), i % 2, 33 + Math.floor(i / 2) * 14.75);
}
addLegend('Control', '#0000ff', 0, 258);
addLegend('Ens. mean', '#ffffff', 1, 258);
addLegend('Oper', '#14d214', 0, 274);

const tickFont = { family: 'DejaVu Sans', size: 11 };
const gridColor = '#3a3a3a';

const framePlugin = {
    id: 'frame',
    beforeDatasetsDraw(chart) {
        const { ctx, chartArea: a, scales } = chart;
        const y0 = Math.round(scales.y.getPixelForValue(0)) + 0.5;
        ctx.save();
        ctx.strokeStyle = '#ffffff';
        ctx.lineWidth = 1.5;
        ctx.beginPath();
        ctx.moveTo(a.left, y0);
        ctx.lineTo(a.right, y0);
        ctx.stroke();
        ctx.restore();
    },
    afterDraw(chart) {
        const { ctx, chartArea: a, scales } = chart;
        ctx.save();
        ctx.strokeStyle = '#ffffff';
        ctx.lineWidth = 1;
        ctx.strokeRect(a.left + 0.5, a.top + 0.5, a.right - a.left, a.bottom - a.top);
        // short inward ticks on the precipitation axis
        scales.y2.ticks.forEach(t => {
            const y = Math.round(scales.y2.getPixelForValue(t.value)) + 0.5;
            const len = t.value % 10 === 0 ? 6 : 4;
            ctx.beginPath();
            ctx.moveTo(a.right - len, y);
            ctx.lineTo(a.right, y);
            ctx.stroke();
        });
        ctx.restore();
    }
};

new Chart(document.getElementById('trendChart').getContext('2d'), {
    type: 'line',
    data: { datasets: datasets },
    plugins: [framePlugin],
    options: {
        responsive: false,
        animation: false,
        events: [],
        layout: { padding: { left: 122, right: 4, top: 30, bottom: 22 } },
        plugins: {
            legend: { display: false },
            tooltip: { enabled: false }
        },
        scales: {
            x: {
                type: 'linear',
                min: 0,
                max: 390,
                afterFit: s => { s.height = 39; },
                // one grid line per day, a date label every second day
                afterBuildTicks: s => {
                    const ticks = [];
                    for (let h = 0; h <= 384; h += 24) ticks.push({ value: h });
                    s.ticks = ticks;
                },
                ticks: {
                    autoSkip: false,
                    maxRotation: 0,
                    padding: 7,
                    color: '#e6e6e6',
                    font: tickFont,
                    callback: v => (v % 48 === 0 ? dayLabels[v / 48] : '')
                },
                grid: { color: gridColor, drawTicks: false },
                border: { color: '#ffffff', dash: [4, 3] },
                title: { display: true, text: 'Date (UTC)', color: '#e6e6e6', font: { family: 'DejaVu Sans', size: 10.5 }, padding: { top: 0, bottom: 3 } }
            },
            y: {
                position: 'left',
                min: -20,
                max: 25,
                afterFit: s => { s.width = 41; },
                ticks: { stepSize: 5, padding: 8, color: '#e6e6e6', font: tickFont },
                grid: { color: gridColor, drawTicks: false },
                border: { color: '#ffffff', dash: [4, 3] },
                title: { display: true, text: '2m Temp. (°C)', color: '#e6e6e6', font: { family: 'DejaVu Sans', size: 11 }, padding: { top: 2, bottom: 0 } }
            },
            y2: {
                position: 'right',
                min: 0,
                max: 40,
                afterFit: s => { s.width = 36; },
                ticks: {
                    stepSize: 1,
                    autoSkip: false,
                    padding: 6,
                    color: '#e6e6e6',
                    font: tickFont,
                    callback: v => (v % 10 === 0 ? v : '')
                },
                grid: { drawOnChartArea: false, drawTicks: false },
                border: { color: '#ffffff' },
                title: { display: true, text: 'Neerslag (mm)', color: '#e6e6e6', font: { family: 'DejaVu Sans', size: 11 }, padding: { top: 0, bottom: 2 } }
            }
        }
    }
});
</script>
</body>
</html>
